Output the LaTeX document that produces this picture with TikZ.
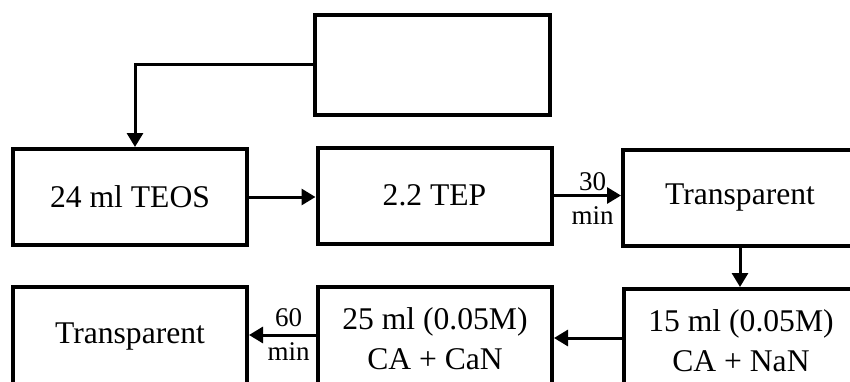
\documentclass[tikz,border=0pt]{standalone}
\usepackage{fontspec}
\setmainfont{Liberation Serif}
\usetikzlibrary{arrows.meta}
\tikzset{
  >={Triangle[length=7pt,width=8pt]},
  stage/.style={draw=black,line width=2pt,fill=white,align=center,font=\fontsize{15.8}{20}\selectfont,minimum width=117pt,minimum height=48pt,inner sep=0pt},
  flow/.style={->,line width=1.5pt},
  timing/.style={font=\fontsize{13.5}{17}\selectfont,align=center,inner sep=0pt}
}
\begin{document}
\begin{tikzpicture}[x=0.5pt,y=0.5pt]
  \useasboundingbox (0,0) rectangle (850,381);
  \clip (0,0) rectangle (850,381);
  \node[stage,minimum width=117.5pt,minimum height=50pt] (blank) at (432.5,316) {};
  \node[stage] (teos) at (130,184) {24 ml TEOS};
  \node[stage] (tep) at (434.5,185.5) {2.2 TEP};
  \node[stage] (clear1) at (740,183.5) {Transparent};
  \node[stage,minimum height=52pt] (nan) at (741,40) {15 ml (0.05M)\\CA + NaN};
  \node[stage,minimum height=52pt] (can) at (435,42) {25 ml (0.05M)\\CA + CaN};
  \node[stage,minimum height=50pt] (clear2) at (130,44) {Transparent};
  \draw[flow] (blank.west) -| ([xshift=2.5pt]teos.north);
  \draw[flow] (teos.east) -- (teos.east -| tep.west);
  \draw[flow] (tep.east) -- node[timing,pos=0.58,yshift=-1.5pt]{30\\min} (tep.east -| clear1.west);
  \draw[flow] (clear1.south) -- (clear1.south |- nan.north);
  \draw[flow] ([yshift=1.5pt]nan.west) -- ([yshift=1.5pt]nan.west -| can.east);
  \draw[flow] ([yshift=2pt]can.west) -- node[timing,pos=0.41]{60\\min} ([yshift=2pt]can.west -| clear2.east);
\end{tikzpicture}
\end{document}
